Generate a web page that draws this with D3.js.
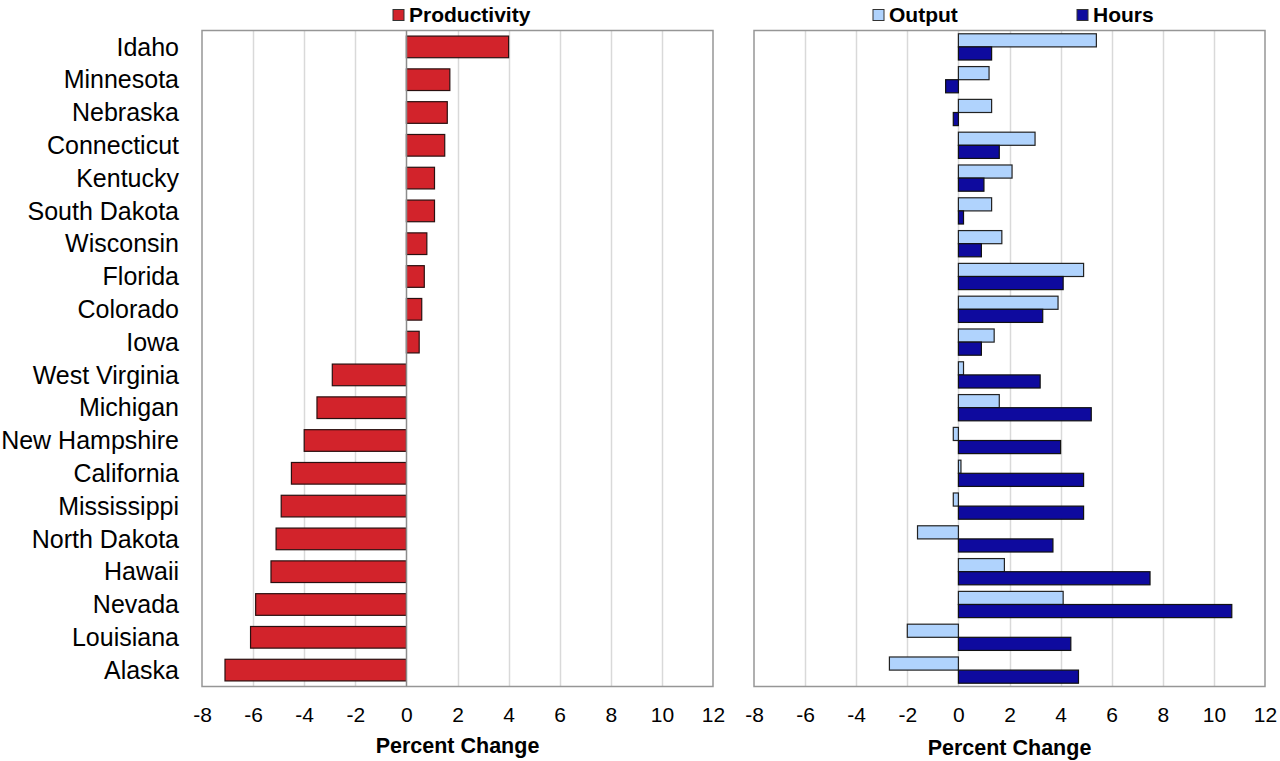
<!DOCTYPE html>
<html><head><meta charset="utf-8">
<script src="https://cdn.jsdelivr.net/npm/d3@7"></script>
<style>body{margin:0;background:#fff}svg{display:block;font-family:"Liberation Sans",Arial,sans-serif}</style>
</head><body><svg id="c" width="1280" height="761"></svg>
<script>
const states = ["Idaho","Minnesota","Nebraska","Connecticut","Kentucky","South Dakota","Wisconsin","Florida","Colorado","Iowa","West Virginia","Michigan","New Hampshire","California","Mississippi","North Dakota","Hawaii","Nevada","Louisiana","Alaska"];
const productivity = [4.0,1.7,1.6,1.5,1.1,1.1,0.8,0.7,0.6,0.5,-2.9,-3.5,-4.0,-4.5,-4.9,-5.1,-5.3,-5.9,-6.1,-7.1];
const output = [5.4,1.2,1.3,3.0,2.1,1.3,1.7,4.9,3.9,1.4,0.2,1.6,-0.2,0.1,-0.2,-1.6,1.8,4.1,-2.0,-2.7];
const hours = [1.3,-0.5,-0.2,1.6,1.0,0.2,0.9,4.1,3.3,0.9,3.2,5.2,4.0,4.9,4.9,3.7,7.5,10.7,4.4,4.7];
const xTicks = [-8,-6,-4,-2,0,2,4,6,8,10,12];
const axisTitle = "Percent Change";

(function(){
const svg = d3.select("#c");
const plotTop = 30.5, plotBottom = 686.5;
const y = d3.scaleBand().domain(states).range([plotTop, plotBottom]).paddingInner(0.34).paddingOuter(0.17);
const y2 = d3.scaleBand().domain(states).range([plotTop, plotBottom]).paddingInner(0.2).paddingOuter(0.1);

function panel(x0, x1, zeroDark, titleY) {
  const x = d3.scaleLinear().domain([-8,12]).range([x0, x1]);
  const g = svg.append("g");
  g.selectAll("line.grid").data(xTicks.filter(t => t > -8 && t < 12 && !(zeroDark && t === 0)))
    .enter().append("line").attr("class","grid")
    .attr("x1", d => Math.round(x(d)) + 0.5).attr("x2", d => Math.round(x(d)) + 0.5)
    .attr("y1", plotTop).attr("y2", plotBottom).attr("stroke", "#d9d9d9").attr("stroke-width", 1.5);
  g.append("rect").attr("x", x0).attr("y", plotTop).attr("width", x1 - x0).attr("height", plotBottom - plotTop)
    .attr("fill", "none").attr("stroke", "#969696").attr("stroke-width", 1.5);
  const ax = g.append("g").attr("transform", `translate(0,${plotBottom})`)
    .call(d3.axisBottom(x).tickValues(xTicks).tickSize(0).tickFormat(d => String(d)));
  ax.select(".domain").remove();
  ax.selectAll("text").attr("y", 35.5).attr("dy", null).attr("font-size", 21).attr("fill", "#000")
    .attr("font-family", "Liberation Sans, Arial, sans-serif");
  g.append("text").attr("x", (x0 + x1)/2).attr("y", titleY).attr("text-anchor","middle")
    .attr("font-size", 21.5).attr("font-weight","bold").attr("fill","#000").text(axisTitle);
  return {x, g};
}

// Left panel
const L = panel(202, 713, true, 753);
L.g.selectAll("rect.bar").data(states).enter().append("rect").attr("class","bar")
  .attr("x", (d,i) => L.x(Math.min(0, productivity[i])))
  .attr("width", (d,i) => Math.abs(L.x(productivity[i]) - L.x(0)))
  .attr("y", d => y(d)).attr("height", y.bandwidth())
  .attr("fill", "#d2232b").attr("stroke", "#2a1010").attr("stroke-width", 1.2);
L.g.append("line").attr("x1", Math.round(L.x(0)) + 0.5).attr("x2", Math.round(L.x(0)) + 0.5)
  .attr("y1", plotTop).attr("y2", plotBottom).attr("stroke", "#8c8c8c").attr("stroke-width", 1.5);
svg.append("g").selectAll("text").data(states).enter().append("text")
  .attr("x", 179).attr("y", d => y(d) + y.bandwidth()/2).attr("dy","0.35em")
  .attr("text-anchor","end").attr("font-size", 25).attr("fill","#000").text(d => d);

// Right panel
const R = panel(754, 1265, false, 755);
const bh = y2.bandwidth()/2;
R.g.selectAll("rect.out").data(states).enter().append("rect").attr("class","out")
  .attr("x", (d,i) => R.x(Math.min(0, output[i])))
  .attr("width", (d,i) => Math.abs(R.x(output[i]) - R.x(0)))
  .attr("y", d => y2(d)).attr("height", bh)
  .attr("fill", "#b0d3fd").attr("stroke", "#222").attr("stroke-width", 1.2);
R.g.selectAll("rect.hrs").data(states).enter().append("rect").attr("class","hrs")
  .attr("x", (d,i) => R.x(Math.min(0, hours[i])))
  .attr("width", (d,i) => Math.abs(R.x(hours[i]) - R.x(0)))
  .attr("y", d => y2(d) + bh).attr("height", bh)
  .attr("fill", "#0e0a9e").attr("stroke", "#111").attr("stroke-width", 1.2);

// Legends
const legends = [
  {label:"Productivity", color:"#d2232b", x:393},
  {label:"Output", color:"#b0d3fd", x:873},
  {label:"Hours", color:"#0e0a9e", x:1077}
];
const lg = svg.append("g").selectAll("g").data(legends).enter().append("g");
lg.append("rect").attr("x", d => d.x).attr("y", 9.5).attr("width", 11).attr("height", 11)
  .attr("fill", d => d.color).attr("stroke", "#333").attr("stroke-width", 1);
lg.append("text").attr("x", d => d.x + 16).attr("y", 21.5).attr("font-size", 21)
  .attr("font-weight","bold").attr("fill","#000").text(d => d.label);
})();
</script></body></html>
